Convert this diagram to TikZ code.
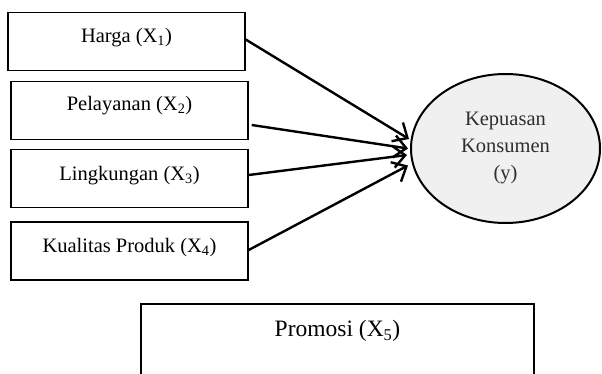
\documentclass[tikz,border=0pt]{standalone}
\usepackage{fontspec}
\setmainfont{Liberation Serif}
\usetikzlibrary{arrows.meta,shapes.geometric}
\definecolor{ellfill}{HTML}{F0F0F0}
\definecolor{elltext}{HTML}{2E2E2E}
\tikzset{
  varbox/.style={draw=black,line width=1.4pt,rectangle,minimum width=237pt,minimum height=58pt,inner sep=0pt},
  boxtext/.style={anchor=base,inner sep=0pt,font=\fontsize{20.5}{24}\selectfont},
  conn/.style={line width=2.4pt,-{Straight Barb[length=12pt,width=22pt,line width=2.4pt]}},
}
\begin{document}
\begin{tikzpicture}[x=1pt,y=-1pt]
\useasboundingbox (0,0) rectangle (602,374);
\clip (0,0) rectangle (602,374);
% boxes
\node[varbox] (b1) at (126.5,41.5) {};
\node[varbox] (b2) at (129.5,110.5) {};
\node[varbox] (b3) at (129.5,178.5) {};
\node[varbox] (b4) at (129.5,251) {};
\node[boxtext] (t1) at ([yshift=-31pt]b1.north) {Harga (X\textsubscript{1})};
\node[boxtext] (t2) at ([yshift=-30pt]b2.north) {Pelayanan (X\textsubscript{2})};
\node[boxtext] (t3) at ([yshift=-32pt]b3.north) {Lingkungan (X\textsubscript{3})};
\node[boxtext] (t4) at ([yshift=-31pt]b4.north) {Kualitas Produk (X\textsubscript{4})};
% ellipse
\node[ellipse,draw=black,line width=2pt,fill=ellfill,minimum width=189pt,minimum height=149pt,inner sep=0pt,
      text=elltext,align=center,font=\fontsize{20.5}{27}\selectfont] (e) at (505.5,148.5)
      {Kepuasan\\Konsumen\\(y)};
% promosi box
\node[draw=black,line width=1.4pt,rectangle,minimum width=393pt,minimum height=120pt,inner sep=0pt] (b5) at (337.5,364) {};
\node[anchor=base,inner sep=0pt,font=\fontsize{23.5}{28}\selectfont] (t5) at ([yshift=-33pt]b5.north) {Promosi (X\textsubscript{5})};
% arrows
\draw[conn] ([yshift=2pt]b1.east) -- ([xshift=-1pt,yshift=9.5pt]e.west);
\draw[conn] ([xshift=3pt,yshift=-14.5pt]b2.east) -- ([xshift=-2pt,yshift=0pt]e.west);
\draw[conn] ([yshift=3.5pt]b3.east) -- ([xshift=-3pt,yshift=-6.5pt]e.west);
\draw[conn] ([yshift=1pt]b4.east) -- ([xshift=-2pt,yshift=-17pt]e.west);
\end{tikzpicture}
\end{document}
